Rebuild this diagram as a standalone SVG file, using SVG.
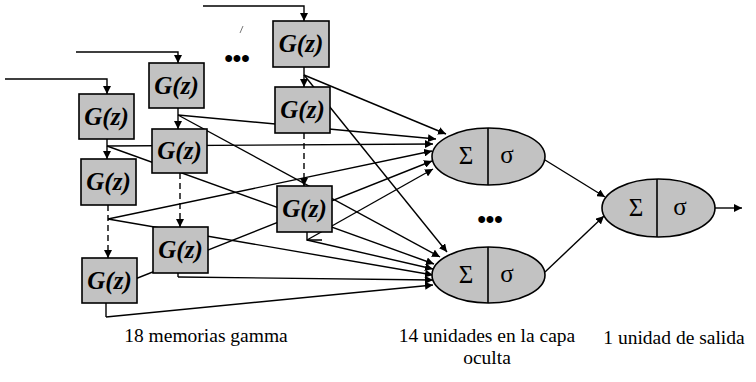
<svg xmlns="http://www.w3.org/2000/svg" width="756" height="382" viewBox="0 0 756 382">
<defs>
<marker id="ah" markerUnits="userSpaceOnUse" markerWidth="9" markerHeight="8" refX="8" refY="4" orient="auto">
<path d="M0,0 L8,4 L0,8 z" fill="#000"/>
</marker>
<style>
.c{fill:none;stroke:#000;stroke-width:1.4}
.a{marker-end:url(#ah)}
.d{stroke-dasharray:6,4}
.box{fill:#c2c2c2;stroke:#000;stroke-width:1.6}
.gz{font-family:'Liberation Serif','Times New Roman','DejaVu Serif',serif;font-weight:bold;font-style:italic;font-size:25px;text-anchor:middle;fill:#000}
.el{fill:#c2c2c2;stroke:#000;stroke-width:1.6}
.sym{font-family:'Liberation Serif','Times New Roman','DejaVu Serif',serif;font-size:25px;text-anchor:middle;fill:#000}
.lbl{font-family:'Liberation Serif','Times New Roman','DejaVu Serif',serif;font-size:19.5px;text-anchor:middle;fill:#000}
.dots{font-family:'Liberation Sans',Arial,sans-serif;font-size:24px;font-weight:bold;text-anchor:middle;fill:#000}
</style>
</defs>
<rect width="756" height="382" fill="#fff"/>
<g id="connectors">
<polyline class="c a" points="5,79 107,79 107,94"/>
<polyline class="c a" points="76,52 178,52 178,63"/>
<polyline class="c a" points="203,6 304,6 304,21"/>
<line class="c a" x1="107" y1="139" x2="107" y2="159"/>
<line class="c d a" x1="108" y1="205" x2="108" y2="258"/>
<line class="c a" x1="178" y1="108" x2="178" y2="129"/>
<line class="c d a" x1="180" y1="173" x2="180" y2="227"/>
<line class="c a" x1="304" y1="67" x2="304" y2="87"/>
<line class="c d a" x1="304" y1="133" x2="304" y2="186"/>
<polyline class="c" points="307,232 307,240 322,240"/>
<polyline class="c" points="178,273 178,277"/>
<polyline class="c" points="106,303 106,317"/>
<line class="c a" x1="304" y1="75" x2="446" y2="134"/>
<line class="c a" x1="178" y1="115" x2="436" y2="139"/>
<line class="c a" x1="107" y1="146" x2="433" y2="144"/>
<line class="c a" x1="108" y1="219" x2="432" y2="151"/>
<line class="c a" x1="120" y1="285" x2="432" y2="161"/>
<line class="c a" x1="307" y1="240" x2="433" y2="169"/>
<line class="c a" x1="304" y1="75" x2="447" y2="252"/>
<line class="c a" x1="178" y1="115" x2="440" y2="257"/>
<line class="c a" x1="107" y1="146" x2="434" y2="264"/>
<line class="c a" x1="307" y1="240" x2="433" y2="269"/>
<line class="c a" x1="108" y1="219" x2="433" y2="275"/>
<line class="c a" x1="178" y1="277" x2="433" y2="280"/>
<line class="c a" x1="106" y1="317" x2="433" y2="285"/>
<line class="c a" x1="545" y1="160" x2="605" y2="197"/>
<line class="c a" x1="545" y1="272" x2="604" y2="216"/>
<line class="c a" x1="715" y1="208" x2="742" y2="208"/>
</g>
<line x1="243" y1="26" x2="240" y2="33" stroke="#555" stroke-width="0.8"/>
<g id="g1a"><rect class="box" x="79" y="94" width="55" height="45"/><text class="gz" x="106.5" y="125">G(z)</text></g>
<g id="g1b"><rect class="box" x="81" y="159" width="55" height="46"/><text class="gz" x="108.5" y="190">G(z)</text></g>
<g id="g1c"><rect class="box" x="82" y="258" width="55" height="45"/><text class="gz" x="109.5" y="289">G(z)</text></g>
<g id="g2a"><rect class="box" x="149" y="63" width="55" height="45"/><text class="gz" x="176.5" y="94">G(z)</text></g>
<g id="g2b"><rect class="box" x="152" y="129" width="55" height="44"/><text class="gz" x="179.5" y="159">G(z)</text></g>
<g id="g2c"><rect class="box" x="153" y="227" width="55" height="46"/><text class="gz" x="180.5" y="258">G(z)</text></g>
<g id="g3a"><rect class="box" x="273" y="21" width="56" height="46"/><text class="gz" x="301" y="52">G(z)</text></g>
<g id="g3b"><rect class="box" x="275" y="87" width="55" height="46"/><text class="gz" x="302.5" y="118">G(z)</text></g>
<g id="g3c"><rect class="box" x="277" y="186" width="55" height="46"/><text class="gz" x="304.5" y="217">G(z)</text></g>
<text class="dots" x="237" y="66">•••</text>
<g id="h1"><ellipse class="el" cx="488.5" cy="156.5" rx="56.5" ry="28.5"/><line x1="488" y1="128" x2="488" y2="185" stroke="#000" stroke-width="1.6"/><text class="sym" x="466" y="164">Σ</text><text class="sym" x="507" y="163">σ</text></g>
<text class="dots" x="490" y="227">•••</text>
<g id="h2"><ellipse class="el" cx="488.5" cy="275" rx="56.5" ry="28"/><line x1="488" y1="247" x2="488" y2="303" stroke="#000" stroke-width="1.6"/><text class="sym" x="466" y="283">Σ</text><text class="sym" x="507" y="282">σ</text></g>
<g id="out"><ellipse class="el" cx="658.5" cy="208" rx="56.5" ry="29"/><line x1="657" y1="179" x2="657" y2="237" stroke="#000" stroke-width="1.6"/><text class="sym" x="636" y="216">Σ</text><text class="sym" x="680" y="215">σ</text></g>
<text class="lbl" x="206" y="342">18 memorias gamma</text>
<text class="lbl" x="487" y="342">14 unidades en la capa</text>
<text class="lbl" x="487" y="364">oculta</text>
<text class="lbl" x="674" y="344">1 unidad de salida</text>
</svg>
